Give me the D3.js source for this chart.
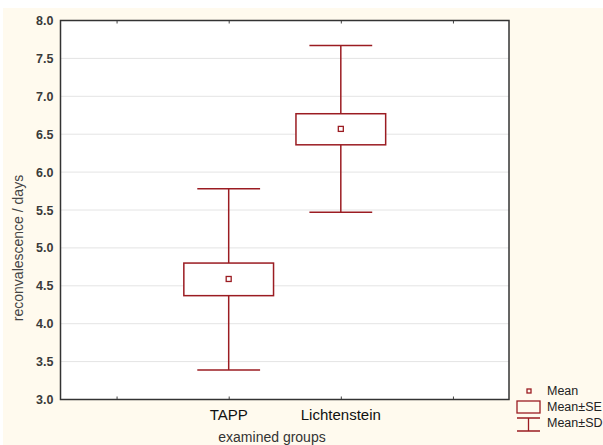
<!DOCTYPE html>
<html>
<head>
<meta charset="utf-8">
<script src="https://cdn.jsdelivr.net/npm/d3@7"></script>
<style>
  body { margin: 0; background: #fff; }
  text { font-family: Arial, "Liberation Sans", sans-serif; }
</style>
</head>
<body>
<div id="chart"></div>
<script>
const groups = ["TAPP", "Lichtenstein"];
const means = [4.59, 6.57];
const seLow = [4.37, 6.36];
const seHigh = [4.80, 6.77];
const sdLow = [3.39, 5.47];
const sdHigh = [5.78, 7.67];
const yTicks = [3.0, 3.5, 4.0, 4.5, 5.0, 5.5, 6.0, 6.5, 7.0, 7.5, 8.0];

const W = 603, H = 445;
const margin = { top: 20.5, right: 94, bottom: 45.5, left: 60.5 };
const width = W - margin.left - margin.right;
const height = H - margin.top - margin.bottom;
const red = "#9b1c22";

const svg = d3.select("#chart").append("svg")
  .attr("width", W)
  .attr("height", H);

svg.append("rect")
  .attr("x", 3).attr("y", 8)
  .attr("width", W - 3).attr("height", H - 8)
  .attr("fill", "#fffaee");

const g = svg.append("g")
  .attr("transform", `translate(${margin.left}, ${margin.top})`);

// x positions: 4 slots, groups sit in slots 2 and 3
const xScale = d3.scaleLinear().domain([0, 4]).range([0, width]);
const yScale = d3.scaleLinear().domain([3, 8]).range([height, 0]);
const slot = xScale(1) - xScale(0);

g.append("rect")
  .attr("width", width)
  .attr("height", height)
  .attr("fill", "#fff");

// grid
g.selectAll(".grid")
  .data(yTicks.filter(d => d > 3 && d < 8))
  .enter()
  .append("line")
  .attr("x1", 0).attr("x2", width)
  .attr("y1", d => yScale(d)).attr("y2", d => yScale(d))
  .attr("stroke", "#c8c8c8")
  .attr("stroke-width", 1)
  .attr("stroke-dasharray", "1,1");

const yAxis = d3.axisLeft(yScale).tickValues(yTicks).tickFormat(d3.format(".1f")).tickSize(0).tickPadding(7);
g.append("g")
  .call(yAxis)
  .call(a => a.select(".domain").remove())
  .selectAll("text")
  .attr("font-size", 12.5)
  .attr("font-weight", "bold")
  .attr("fill", "#3a3a3a");

const tickPos = [0.5, 1.5, 2.5, 3.5];
const xAxisB = d3.axisBottom(xScale).tickValues(tickPos).tickSize(-3).tickFormat("");
const xAxisT = d3.axisTop(xScale).tickValues(tickPos).tickSize(-3).tickFormat("");
g.append("g").attr("transform", `translate(0, ${height})`).call(xAxisB)
  .call(a => a.select(".domain").remove())
  .selectAll("line").attr("stroke", "#444");
g.append("g").call(xAxisT)
  .call(a => a.select(".domain").remove())
  .selectAll("line").attr("stroke", "#444");

// group labels
g.selectAll(".glabel")
  .data(groups)
  .enter()
  .append("text")
  .attr("x", (d, i) => xScale(i + 1.5))
  .attr("y", height + 20)
  .attr("text-anchor", "middle")
  .attr("font-size", 15)
  .attr("fill", "#111")
  .text(d => d);

// frame
g.append("rect")
  .attr("width", width)
  .attr("height", height)
  .attr("fill", "none")
  .attr("stroke", "#333")
  .attr("stroke-width", 1.5);

// whiskers and boxes
const boxes = g.selectAll(".grp")
  .data(groups)
  .enter()
  .append("g")
  .attr("stroke", red)
  .attr("stroke-width", 1.5)
  .attr("fill", "none");

boxes.append("line")
  .attr("x1", (d, i) => xScale(i + 1.5)).attr("x2", (d, i) => xScale(i + 1.5))
  .attr("y1", (d, i) => yScale(sdHigh[i])).attr("y2", (d, i) => yScale(sdLow[i]));

boxes.append("line")
  .attr("x1", (d, i) => xScale(i + 1.5) - slot * 0.28).attr("x2", (d, i) => xScale(i + 1.5) + slot * 0.28)
  .attr("y1", (d, i) => yScale(sdHigh[i])).attr("y2", (d, i) => yScale(sdHigh[i]));

boxes.append("line")
  .attr("x1", (d, i) => xScale(i + 1.5) - slot * 0.28).attr("x2", (d, i) => xScale(i + 1.5) + slot * 0.28)
  .attr("y1", (d, i) => yScale(sdLow[i])).attr("y2", (d, i) => yScale(sdLow[i]));

boxes.append("rect")
  .attr("x", (d, i) => xScale(i + 1.5) - slot * 0.4)
  .attr("width", slot * 0.8)
  .attr("y", (d, i) => yScale(seHigh[i]))
  .attr("height", (d, i) => yScale(seLow[i]) - yScale(seHigh[i]))
  .attr("fill", "#fff");

boxes.append("rect")
  .attr("x", (d, i) => xScale(i + 1.5) - 2.5)
  .attr("y", (d, i) => yScale(means[i]) - 2.5)
  .attr("width", 5).attr("height", 5)
  .attr("stroke-width", 1.3);

// axis titles
svg.append("text")
  .attr("transform", "translate(23, 248) rotate(-90)")
  .attr("text-anchor", "middle")
  .attr("font-size", 14)
  .attr("fill", "#444")
  .text("reconvalescence / days");

svg.append("text")
  .attr("x", 272)
  .attr("y", 442)
  .attr("text-anchor", "middle")
  .attr("font-size", 14)
  .attr("fill", "#333")
  .text("examined groups");

// legend
const lg = svg.append("g").attr("transform", "translate(517, 386)");
lg.append("rect").attr("x", 10).attr("y", 3).attr("width", 4).attr("height", 4)
  .attr("fill", "none").attr("stroke", red).attr("stroke-width", 1.3);
lg.append("rect").attr("x", 0).attr("y", 15).attr("width", 23).attr("height", 12)
  .attr("fill", "none").attr("stroke", red).attr("stroke-width", 1.3);
lg.append("path").attr("d", "M0,32H23M11.5,32V45M0,45H23")
  .attr("fill", "none").attr("stroke", red).attr("stroke-width", 1.3);
lg.selectAll(".lt")
  .data(["Mean", "Mean±SE", "Mean±SD"])
  .enter()
  .append("text")
  .attr("x", 30)
  .attr("y", (d, i) => 9 + i * 16)
  .attr("font-size", 12.5)
  .attr("fill", "#222")
  .text(d => d);
</script>
</body>
</html>
